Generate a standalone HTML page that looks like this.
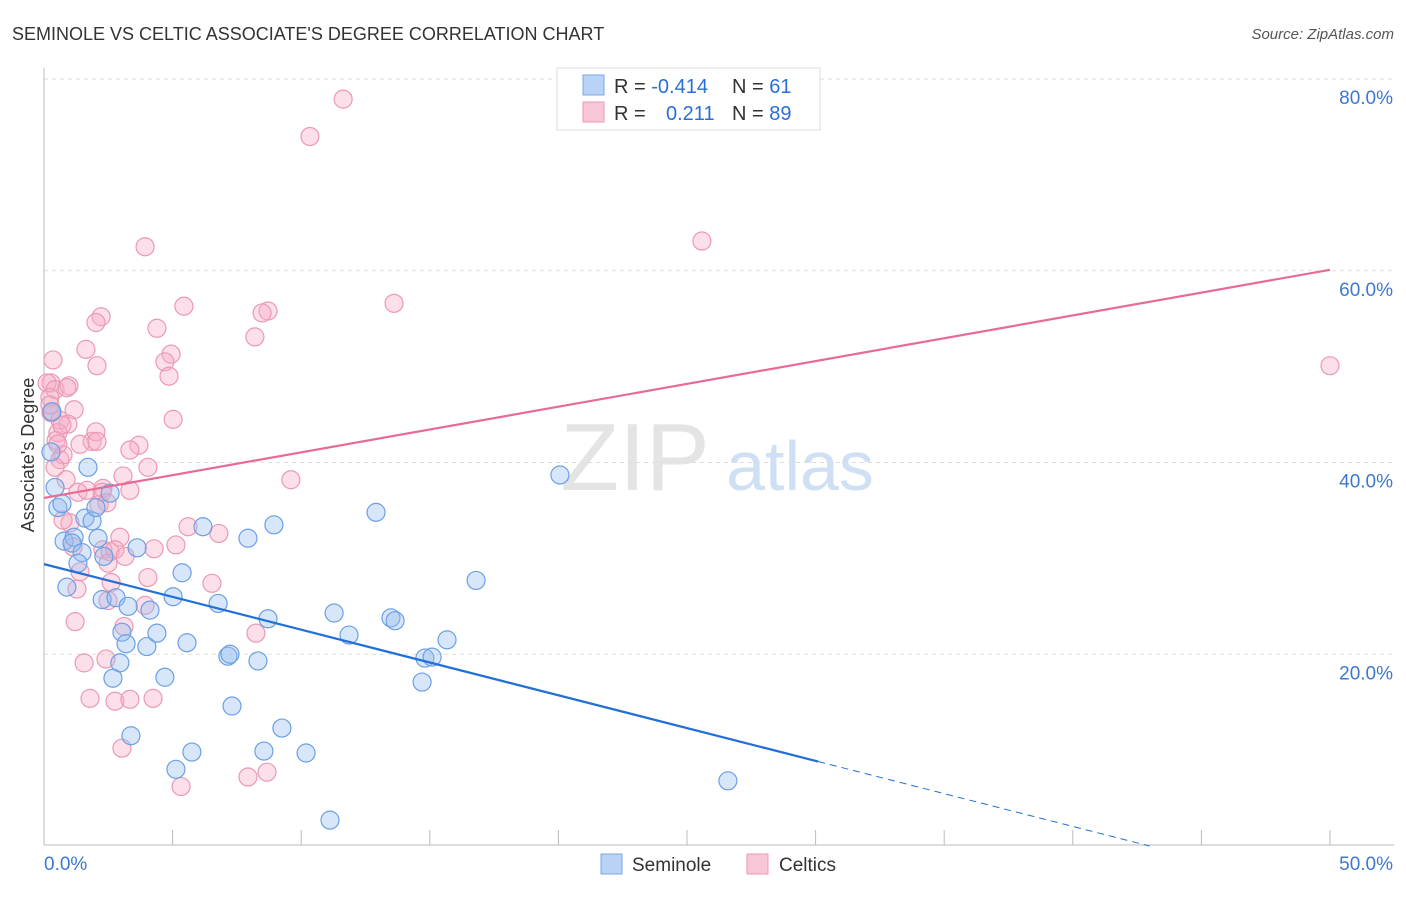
<!DOCTYPE html>
<html><head><meta charset="utf-8"><style>
body{margin:0;background:#fff;font-family:"Liberation Sans",sans-serif;}
svg text{font-family:"Liberation Sans",sans-serif;}
</style></head><body>
<svg id="chart" width="1406" height="892">
<text x="12" y="40" font-size="18" fill="#333">SEMINOLE VS CELTIC ASSOCIATE'S DEGREE CORRELATION CHART</text>
<text x="1394" y="39" font-size="15" fill="#555" font-style="italic" text-anchor="end">Source: ZipAtlas.com</text>
<text x="635" y="490" font-size="96" fill="#e4e4e4" font-family="Liberation Serif" text-anchor="middle">ZIP</text>
<text x="800" y="490" font-size="70" fill="#cfe0f5" text-anchor="middle">atlas</text>
<g id="grid"></g><g id="axes"></g><g id="pts"></g><g id="lines"></g>
<text transform="translate(34,455) rotate(-90)" font-size="18" fill="#333" text-anchor="middle">Associate's Degree</text>
<g>
<rect x="557" y="68" width="263" height="62" fill="#fff" stroke="#ddd"/>
<rect x="583" y="75" width="21" height="20" fill="#b8d3f5" stroke="#7aa7e6"/>
<rect x="583" y="102" width="21" height="20" fill="#f8c6d6" stroke="#ec9ab6"/>
<text x="614" y="93" font-size="20" fill="#333">R = <tspan fill="#2a6fd6">-0.414</tspan></text>
<text x="732" y="93" font-size="20" fill="#333">N = <tspan fill="#2a6fd6"> 61</tspan></text>
<text x="614" y="120" font-size="20" fill="#333">R = <tspan fill="#2a6fd6" x="666">0.211</tspan></text>
<text x="732" y="120" font-size="20" fill="#333">N = <tspan fill="#2a6fd6">89</tspan></text>
</g>
<g>
<rect x="601" y="854" width="21" height="20" fill="#b8d3f5" stroke="#7aa7e6"/>
<text x="632" y="871" font-size="19" fill="#333">Seminole</text>
<rect x="747" y="854" width="21" height="20" fill="#f8c6d6" stroke="#ec9ab6"/>
<text x="779" y="871" font-size="19" fill="#333">Celtics</text>
</g>
</svg>
<script>
const yTicks=[20,40,60,80];
const yTickLabels=["20.0%","40.0%","60.0%","80.0%"];
const xTicks=[0,5,10,15,20,25,30,35,40,45,50];
const xTickLabels=["0.0%","50.0%"];
const seminoleX=[0.31,0.27,0.43,0.54,0.70,1.71,1.59,1.87,2.02,2.57,0.78,1.17,1.09,1.48,2.10,2.33,1.32,3.62,0.89,2.26,2.80,3.27,4.12,3.03,3.19,4.00,4.39,2.95,2.68,4.70,5.02,5.37,5.56,6.18,6.77,7.93,8.94,8.71,7.15,7.23,8.32,7.31,9.25,8.55,10.19,5.75,5.13,3.38,11.28,11.86,12.91,13.49,13.65,14.81,15.09,15.67,16.80,14.70,20.06,26.59,11.12];
const seminoleY=[45.3,41.1,37.4,35.3,35.7,39.5,34.2,33.9,35.3,36.8,31.8,32.2,31.6,30.6,32.1,30.2,29.5,31.1,27.0,25.7,25.9,25.0,24.6,22.3,21.1,20.8,22.2,19.1,17.5,17.6,26.0,28.5,21.2,33.3,25.3,32.1,33.5,23.7,19.8,20.0,19.3,14.6,12.3,9.9,9.7,9.8,8.0,11.5,24.3,22.0,34.8,23.8,23.5,19.6,19.7,21.5,27.7,17.1,38.7,6.8,2.7];
const celticsX=[11.63,10.34,3.93,25.58,13.61,5.44,8.71,8.48,4.39,2.22,2.02,8.20,0.35,1.63,4.94,4.70,4.86,2.06,0.27,0.12,0.43,0.97,0.23,1.17,0.31,0.62,5.02,0.93,0.54,0.47,1.87,2.02,1.40,3.69,3.34,0.62,0.74,4.04,3.07,0.86,9.60,1.32,1.67,2.29,2.26,2.14,2.45,1.01,2.95,1.13,2.29,2.57,2.76,3.15,4.28,5.13,5.60,6.80,2.49,1.40,2.61,4.04,6.53,1.28,2.49,3.93,3.11,1.21,8.24,1.56,2.41,1.79,2.76,3.34,4.24,3.03,7.93,8.67,5.33,50.0,0.27,2.06,0.43,0.89,0.23,0.70,0.74,3.34,0.54];
const celticsY=[77.9,74.0,62.5,63.1,56.6,56.3,55.8,55.6,54.0,55.2,54.6,53.1,50.7,51.8,51.3,50.5,49.0,50.1,48.3,48.3,47.6,48.0,46.8,45.5,45.2,44.4,44.5,44.0,43.1,42.3,42.2,43.2,41.9,41.8,41.3,40.3,40.8,39.5,38.6,38.2,38.2,36.9,37.1,37.3,36.9,35.6,35.8,33.7,32.2,31.2,30.9,30.7,30.9,30.2,31.0,31.4,33.3,32.6,29.5,28.6,27.5,28.0,27.4,26.8,25.6,25.1,22.9,23.4,22.2,19.1,19.5,15.4,15.1,15.3,15.4,10.2,7.2,7.7,6.2,50.1,45.2,42.2,39.5,47.8,46.0,43.9,34.0,37.1,41.9];
const seminoleTrend=[29.4,-0.684];
const celticsTrend=[36.3,0.476];
const X0=44,X1=1330,Y0=846,YT=79;
const sx=v=>X0+(v/50)*(X1-X0);
const sy=v=>Y0-(v/80)*(Y0-YT);
const NS="http://www.w3.org/2000/svg";
function mk(p,t,a){const e=document.createElementNS(NS,t);for(const k in a)e.setAttribute(k,a[k]);p.appendChild(e);return e;}
const grid=document.getElementById('grid'),axes=document.getElementById('axes'),pts=document.getElementById('pts'),lines=document.getElementById('lines');
yTicks.forEach((v,i)=>{
 const l=mk(grid,'line',{x1:X0,x2:1394,y1:sy(v),y2:sy(v),stroke:'#ddd','stroke-dasharray':'4,4'});
 
 
 const t=mk(axes,'text',{x:1393,y:sy(v)+25,'font-size':19,fill:'#3d78d0','text-anchor':'end'});
 t.textContent=yTickLabels[i];
 
 
});
const ax=mk(axes,'line',{x1:X0,x2:1394,y1:845,y2:845,stroke:'#bbb'});


const ay=mk(axes,'line',{x1:X0,x2:X0,y1:68,y2:845,stroke:'#bbb'});


xTicks.forEach(v=>{
 const t=mk(axes,'line',{x1:sx(v),x2:sx(v),y1:830,y2:845,stroke:'#bbb'});
 
 
});
const xl0=mk(axes,'text',{x:44,y:870,'font-size':19,fill:'#3d78d0'});xl0.textContent=xTickLabels[0];


const xl1=mk(axes,'text',{x:1393,y:870,'font-size':19,fill:'#3d78d0','text-anchor':'end'});xl1.textContent=xTickLabels[1];


celticsX.forEach((v,i)=>{
 const c=mk(pts,'circle',{cx:sx(v),cy:sy(celticsY[i]),r:9,fill:'rgba(246,170,196,0.38)',stroke:'#eb99b5','stroke-width':1.2});
 
 
});
seminoleX.forEach((v,i)=>{
 const c=mk(pts,'circle',{cx:sx(v),cy:sy(seminoleY[i]),r:9,fill:'rgba(150,190,240,0.38)',stroke:'#6c9fe4','stroke-width':1.2});
 
 
});
const pl=mk(lines,'line',{x1:sx(0),y1:sy(celticsTrend[0]),x2:sx(50),y2:sy(celticsTrend[0]+celticsTrend[1]*50),stroke:'#e66b96','stroke-width':2.2});


const xe=30.1,xz=-seminoleTrend[0]/seminoleTrend[1];
const bl=mk(lines,'line',{x1:sx(0),y1:sy(seminoleTrend[0]),x2:sx(xe),y2:sy(seminoleTrend[0]+seminoleTrend[1]*xe),stroke:'#226fd8','stroke-width':2.2});


const bd=mk(lines,'line',{x1:sx(xe),y1:sy(seminoleTrend[0]+seminoleTrend[1]*xe),x2:sx(xz),y2:sy(0),stroke:'#226fd8','stroke-width':1,'stroke-dasharray':'7,5'});


</script>
</body></html>
